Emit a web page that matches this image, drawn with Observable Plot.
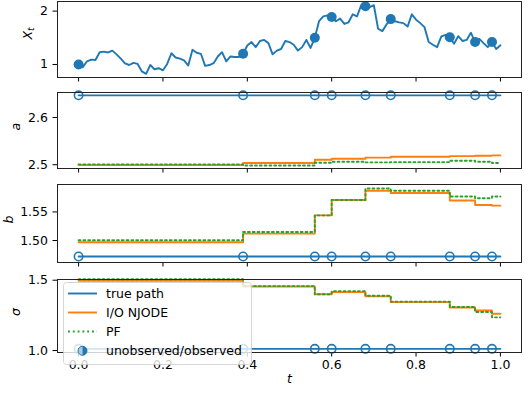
<!DOCTYPE html>
<html><head><meta charset="utf-8">
<script src="https://cdn.jsdelivr.net/npm/d3@7"></script>
<script src="https://cdn.jsdelivr.net/npm/@observablehq/plot@0.6"></script>
<style>
body{margin:0;background:#fff;font-family:"DejaVu Sans",sans-serif;}
#chart{position:relative;width:530px;height:393px;overflow:hidden;background:#fff;}
#chart svg{position:absolute;left:0;}
</style></head><body><div id="chart"></div>
<script>
// ---- data ----
const pathT = [0.00,0.01,0.02,0.03,0.04,0.05,0.06,0.07,0.08,0.09,0.10,0.11,0.12,0.13,0.14,0.15,0.16,0.17,0.18,0.19,0.20,0.21,0.22,0.23,0.24,0.25,0.26,0.27,0.28,0.29,0.30,0.31,0.32,0.33,0.34,0.35,0.36,0.37,0.38,0.39,0.40,0.41,0.42,0.43,0.44,0.45,0.46,0.47,0.48,0.49,0.50,0.51,0.52,0.53,0.54,0.55,0.56,0.57,0.58,0.59,0.60,0.61,0.62,0.63,0.64,0.65,0.66,0.67,0.68,0.69,0.70,0.71,0.72,0.73,0.74,0.75,0.76,0.77,0.78,0.79,0.80,0.81,0.82,0.83,0.84,0.85,0.86,0.87,0.88,0.89,0.90,0.91,0.92,0.93,0.94,0.95,0.96,0.97,0.98,0.99,1.00];
const pathX = [1.00,0.95,1.06,1.09,1.085,1.23,1.24,1.225,1.26,1.19,1.11,1.02,0.99,1.03,1.01,0.87,0.825,0.99,0.91,0.93,0.89,1.01,1.21,1.13,1.11,1.075,0.98,1.275,1.22,1.20,0.975,0.99,1.025,1.15,1.23,1.06,1.15,1.14,1.14,1.20,1.356,1.42,1.325,1.44,1.46,1.40,1.19,1.26,1.29,1.44,1.42,1.37,1.26,1.325,1.46,1.31,1.50,1.81,1.90,1.92,1.89,1.81,1.86,1.76,1.79,1.94,1.90,2.11,2.09,2.075,2.11,1.67,1.625,1.75,1.85,1.81,1.79,1.775,1.71,1.94,1.84,1.775,1.70,1.42,1.37,1.325,1.525,1.555,1.51,1.39,1.53,1.44,1.46,1.595,1.42,1.48,1.40,1.325,1.42,1.29,1.36];
const obsTimes = [0.00,0.39,0.56,0.60,0.68,0.74,0.88,0.94,0.98];
const obsX = [1.00,1.20,1.50,1.89,2.09,1.85,1.51,1.42,1.42];
const stepT = [0.00,0.39,0.56,0.60,0.68,0.74,0.88,0.94,0.98,1.00];
const trueA = 2.647, trueB = 1.472, trueSigma = 1.012;
const aNjode = [2.4993,2.5035,2.5106,2.5128,2.5150,2.5170,2.5183,2.5190,2.5198,2.5198];
const aPF    = [2.5007,2.4982,2.5043,2.5064,2.5050,2.5055,2.5085,2.5064,2.5035,2.5035];
const bNjode = [1.497,1.512,1.544,1.571,1.587,1.583,1.570,1.562,1.561,1.561];
const bPF    = [1.5005,1.515,1.544,1.571,1.591,1.587,1.577,1.574,1.577,1.577];
const sNjode = [1.496,1.455,1.400,1.415,1.385,1.344,1.306,1.285,1.262,1.262];
const sPF    = [1.507,1.458,1.400,1.422,1.390,1.348,1.310,1.274,1.236,1.236];
const xTicks = [0,0.2,0.4,0.6,0.8,1.0];
const legendLabels = ["true path","I/O NJODE","PF","unobserved/observed"];

// ---- styles ----
const BLUE = "#1f77b4", ORANGE = "#ff7f0e", GREEN = "#2ca02c";
const LW = 1.9;
const DASH = "1.9,2.9";

const pathRows = pathT.map((t,i)=>({t, v: pathX[i]}));
const obsRows = obsTimes.map((t,i)=>({t, v: obsX[i]}));
const rows = arr => stepT.map((t,i)=>({t, v: arr[i]}));
const constRows = c => stepT.map(t=>({t, v: c}));
const obsConst = c => obsTimes.map(t=>({t, v: c}));

function paramMarks(trueVal, nj, pf){
  return [
    Plot.line(constRows(trueVal), {x:"t", y:"v", stroke:BLUE, strokeWidth:LW}),
    Plot.dot(obsConst(trueVal), {x:"t", y:"v", r:4.2, stroke:BLUE, strokeWidth:1.6, fill:"none"}),
    Plot.line(rows(nj), {x:"t", y:"v", curve:"step-after", stroke:ORANGE, strokeWidth:LW}),
    Plot.line(rows(pf), {x:"t", y:"v", curve:"step-after", stroke:GREEN, strokeWidth:LW, strokeDasharray:DASH})
  ];
}

const chart = document.getElementById("chart");

function panel(cfg){
  const svg = Plot.plot({
    width:530, height:cfg.h,
    marginLeft:57, marginRight:9, marginTop:cfg.mt, marginBottom:cfg.mb,
    x:{domain:[-0.05,1.05]},
    y:{domain:cfg.yDomain},
    style:{background:"transparent", fontFamily:"'DejaVu Sans', sans-serif", fontSize:"12.5px", color:"#000", overflow:"visible"},
    marks:[
      Plot.axisX({ticks:xTicks, tickSize:4.5, tickPadding:3.5, label:null, stroke:"#000",
                  fill: cfg.xLabels ? "#000" : "none", tickFormat:d3.format(".1f")}),
      Plot.axisY({ticks:cfg.yTicks, tickSize:4.5, tickPadding:5, label:null, stroke:"#000", fill:"#000", tickFormat:cfg.yFmt}),
      ...cfg.marks,
      Plot.frame({stroke:"#222", strokeWidth:1}),
      Plot.text([cfg.label], {frameAnchor:"left", dx:cfg.labelX-57, rotate:-90, fontStyle:"italic", fontSize:12.5, fill:"#000"}),
      ...(cfg.extra || [])
    ]
  });
  svg.style.top = cfg.top + "px";
  chart.appendChild(svg);
  return svg;
}

const p1 = panel({top:0, h:88, mt:1, mb:11, yDomain:[0.756,2.18], yTicks:[1,2], yFmt:d3.format("d"),
  label:"X", labelX:27,
  marks:[
    Plot.line(pathRows, {x:"t", y:"v", stroke:BLUE, strokeWidth:LW, strokeLinejoin:"round"}),
    Plot.dot(obsRows, {x:"t", y:"v", r:5, fill:BLUE})
  ]});
// subscript t on X_t
p1.querySelectorAll("text").forEach(el=>{
  if (el.textContent === "X") {
    const ts = document.createElementNS("http://www.w3.org/2000/svg","tspan");
    ts.setAttribute("font-size","9");
    ts.setAttribute("dy","0.3em");
    ts.textContent = "t";
    el.appendChild(ts);
  }
});

panel({top:88, h:88, mt:4, mb:8, yDomain:[2.492,2.653], yTicks:[2.5,2.6], yFmt:d3.format(".1f"),
  label:"a", labelX:15, marks:paramMarks(trueA, aNjode, aPF)});

panel({top:176, h:94, mt:8, mb:8, yDomain:[1.4615,1.598], yTicks:[1.50,1.55], yFmt:d3.format(".2f"),
  label:"b", labelX:8, marks:paramMarks(trueB, bNjode, bPF)});

panel({top:270, h:123, mt:9, mb:41, yDomain:[0.986,1.505], yTicks:[1.0,1.5], yFmt:d3.format(".1f"),
  label:"σ", labelX:15, xLabels:true, marks:paramMarks(trueSigma, sNjode, sPF),
  extra:[Plot.text(["t"], {frameAnchor:"bottom", dy:30, fontStyle:"italic", fontSize:12.5, fill:"#000"})]});

// ---- legend ----
const lg = d3.select(chart).append("svg")
  .attr("width",192).attr("height",86)
  .style("left","62px").style("top","281px")
  .style("font-family","'DejaVu Sans', sans-serif").style("font-size","12.5px");
lg.append("rect").attr("x",1.5).attr("y",1.5).attr("width",188).attr("height",82).attr("rx",3)
  .attr("fill","#fff").attr("fill-opacity",0.8).attr("stroke","#ccc").attr("stroke-opacity",0.8);
const rowY = [12.5, 31.5, 50.5, 69.8];
const g = lg.selectAll("g.item").data(legendLabels).join("g").attr("class","item")
  .attr("transform",(d,i)=>`translate(0,${rowY[i]})`);
g.append("text").attr("x",44).attr("y",0).attr("dy","0.35em").attr("fill","#000").text(d=>d);
g.filter((d,i)=>i<3).append("line").attr("x1",6).attr("x2",35).attr("y1",0).attr("y2",0)
  .attr("stroke",(d,i)=>[BLUE,ORANGE,GREEN][i]).attr("stroke-width",LW)
  .attr("stroke-dasharray",(d,i)=>i===2?DASH:null);
const mk = g.filter((d,i)=>i===3);
mk.append("path").attr("d","M20.5,-4.5 A4.5,4.5 0 0,0 20.5,4.5 Z").attr("fill","#a9cbe3");
mk.append("path").attr("d","M20.5,-4.5 A4.5,4.5 0 0,1 20.5,4.5 Z").attr("fill",BLUE);
mk.append("circle").attr("cx",20.5).attr("cy",0).attr("r",4.5).attr("fill","none").attr("stroke",BLUE).attr("stroke-width",1);
</script></body></html>
